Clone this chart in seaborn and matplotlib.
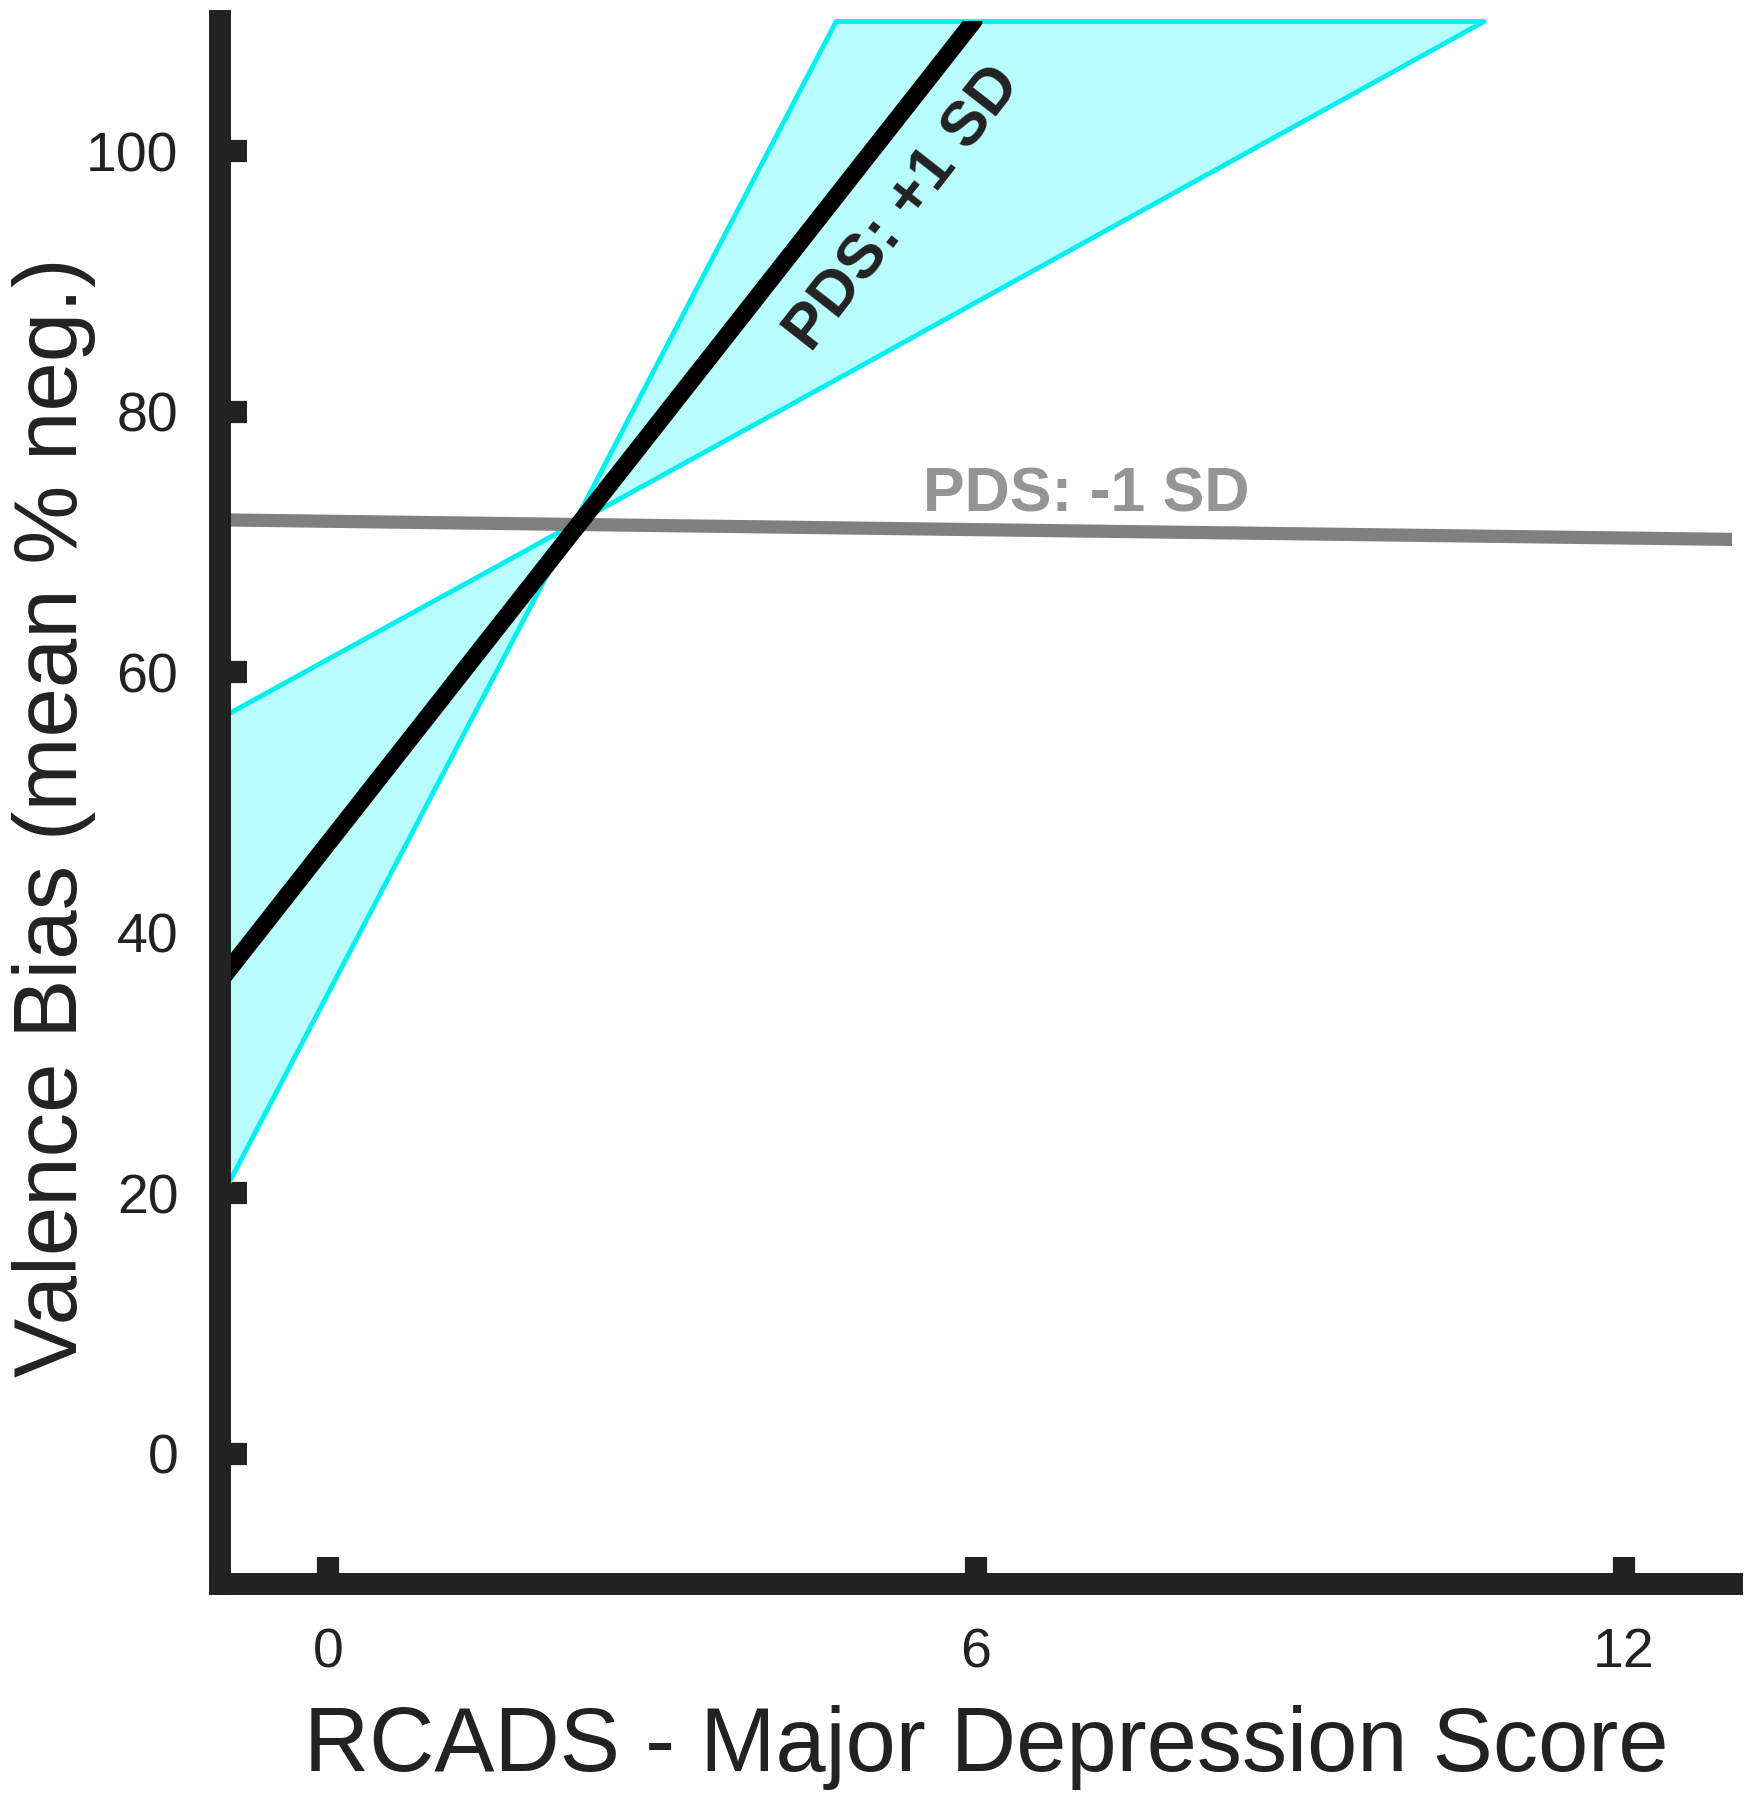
import matplotlib
matplotlib.use("Agg")
import numpy as np
import pandas as pd
import seaborn as sns
import matplotlib.pyplot as plt

# ---------------- data ----------------
x_ticks = [0, 6, 12]
y_ticks = [0, 20, 40, 60, 80, 100]

# PDS: +1 SD regression line (clipped at the top of the axis)
high_x = [-1.0, 5.98]
high_y = [36.3, 110.0]

# PDS: -1 SD regression line
low_x = [-1.0, 13.0]
low_y = [71.7, 70.2]

# confidence band of the +1 SD line (clipped at the top of the axis)
band_x = [-1.0, 2.27, 4.70, 10.7]
band_upper = [56.5, 71.4, 110.0, 110.0]
band_lower = [19.6, 71.4, 82.5, 110.0]

x_label = "RCADS - Major Depression Score"
y_label = "Valence Bias (mean % neg.)"
high_text = "PDS: +1 SD"
low_text = "PDS: -1 SD"

# ---------------- style ----------------
sns.set_theme(style="white")
plt.rcParams["font.family"] = ["Liberation Sans", "DejaVu Sans"]

dark = "#222222"

fig = plt.figure(figsize=(17.55, 18), dpi=100)
ax = fig.add_axes([0.12536, 0.12, 0.86154, 0.86833])

ax.fill_between(band_x, band_lower, band_upper, facecolor="#B8FEFE",
                edgecolor="#00F0F0", linewidth=3.5, zorder=1, clip_on=False)

low_df = pd.DataFrame({"x": low_x, "y": low_y})
high_df = pd.DataFrame({"x": high_x, "y": high_y})
sns.lineplot(data=low_df, x="x", y="y", color="#808080", linewidth=9.5,
             ax=ax, zorder=2)
sns.lineplot(data=high_df, x="x", y="y", color="black", linewidth=12.5,
             ax=ax, zorder=3)

ax.set_xlim(-1, 13)
ax.set_ylim(-10, 110)
ax.set_xticks(x_ticks)
ax.set_yticks(y_ticks)

for side in ["top", "right"]:
    ax.spines[side].set_visible(False)
for side in ["left", "bottom"]:
    sp = ax.spines[side]
    sp.set_linewidth(15.8)
    sp.set_color(dark)
    sp.set_capstyle("projecting")
    sp.set_zorder(4)

ax.tick_params(bottom=True, left=True, top=False, right=False,
               direction="in", length=19.5, width=16, color=dark,
               labelsize=40, labelcolor=dark)
ax.tick_params(axis="y", pad=30)
ax.tick_params(axis="x", pad=31)

ax.set_xlabel(x_label, fontsize=65, color=dark)
ax.set_ylabel(y_label, fontsize=64, color=dark)
ax.xaxis.set_label_coords(0.5071, -0.1196)
ax.xaxis.label.set_verticalalignment("baseline")
ax.yaxis.set_label_coords(-0.0946, 0.4904)
ax.yaxis.label.set_verticalalignment("baseline")

ax.text(5.33, 95.6, high_text, rotation=52, rotation_mode="anchor",
        ha="center", va="center", fontsize=45, fontweight="bold", color=dark,
        zorder=5)
ax.text(7.02, 73.6, low_text, ha="center", va="center", fontsize=45,
        fontweight="bold", color="#959595", zorder=5)

ax.grid(False)
fig.savefig("out.png", dpi=100)
